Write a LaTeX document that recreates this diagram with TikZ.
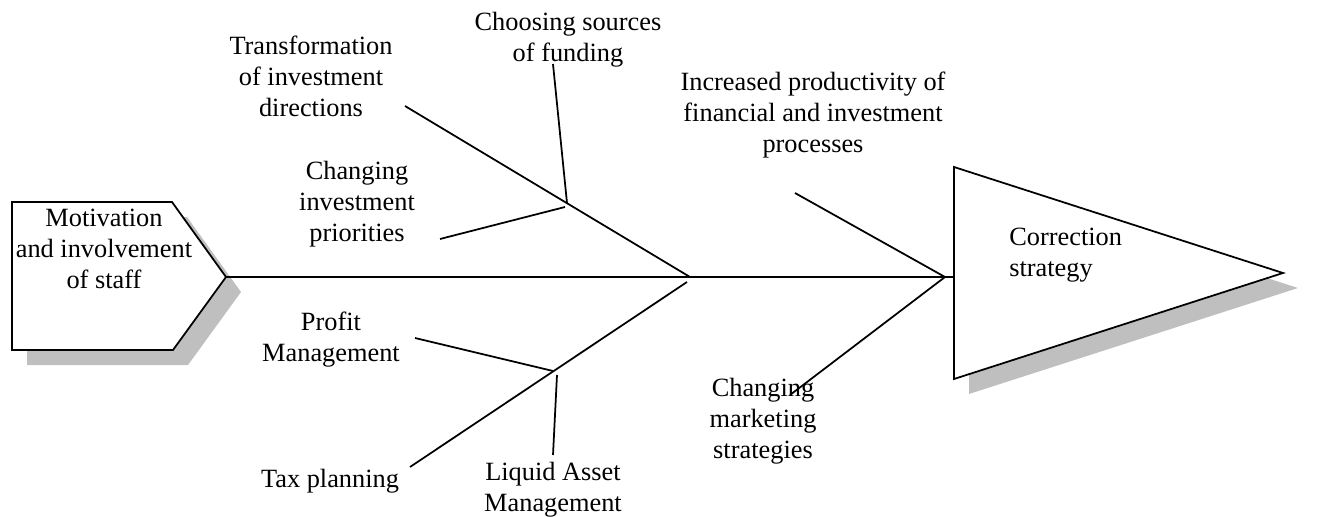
\documentclass[tikz,border=0pt]{standalone}
\usepackage{fontspec}
\setmainfont{Liberation Serif}
\usetikzlibrary{positioning}

\begin{document}
\begin{tikzpicture}[
    x=0.02cm, y=-0.02cm,
    txt/.style={align=center, inner sep=0pt, font=\fontsize{15}{17.6}\selectfont},
    bone/.style={line width=1pt},
    outline/.style={draw, line width=1pt, fill=white, line join=miter},
    shade/.style={fill=black!25, draw=none}
]
\useasboundingbox (0,0) rectangle (1333,517);

% head and tail shapes (shadow first)
\fill[shade] (27,217) -- (187,217) -- (241,292) -- (188,365) -- (27,365) -- cycle;
\draw[outline] (12,202) -- (172,202) -- (226,277) -- (173,350) -- (12,350) -- cycle;
\fill[shade] (969,182) -- (1298,288) -- (969,394) -- cycle;
\draw[outline] (954,167) -- (1283,273) -- (954,379) -- cycle;

\node[txt] (motiv) at (104,249) {Motivation\\and involvement\\of staff};
\node[txt, align=left, anchor=west] (corr) at (1009,255) {Correction\\strategy};

% joints and bone ends
\coordinate (tip) at (226,277);
\coordinate (tail) at (954,277);
\coordinate (jl) at (690,277);
\coordinate (jr) at (945,277);
\coordinate (ul) at (405,106);
\coordinate (ua) at (567,203);
\coordinate (ub) at (565,207);
\coordinate (cs) at (553,64);
\coordinate (pr) at (440,239);
\coordinate (ls) at (687,282);
\coordinate (ll) at (410,467);
\coordinate (la) at (553,371);
\coordinate (lb) at (557,375);
\coordinate (pm) at (415,338);
\coordinate (lq) at (553,455);
\coordinate (ru) at (795,193);
\coordinate (rl) at (790,395);

% spine
\draw[bone] (tip) -- (tail);

% left bones
\draw[bone] (jl) -- (ul);
\draw[bone] (ua) -- (cs);
\draw[bone] (ub) -- (pr);
\draw[bone] (ls) -- (ll);
\draw[bone] (la) -- (pm);
\draw[bone] (lb) -- (lq);

% right bones
\draw[bone] (jr) -- (ru);
\draw[bone] (jr) -- (rl);

% labels
\node[txt] (trans) at (311,76) {Transformation\\of investment\\directions};
\node[txt] (choose) at (568,40) {Choosing sources\\of funding};
\node[txt] (incr) at (813,115) {Increased productivity of\\financial and investment\\processes};
\node[txt] (prior) at (357,204) {Changing\\investment\\priorities};
\node[txt] (profit) at (331,340) {Profit\\Management};
\node[txt] (tax) at (330,481) {Tax planning};
\node[txt] (liquid) at (553,490) {Liquid Asset\\Management};
\node[txt] (mkt) at (763,421) {Changing\\marketing\\strategies};

\end{tikzpicture}
\end{document}
